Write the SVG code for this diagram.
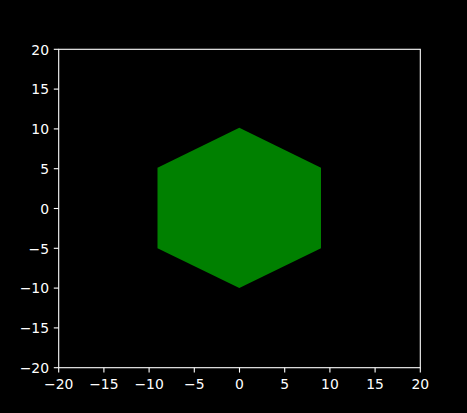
<svg xmlns="http://www.w3.org/2000/svg" width="467" height="413" viewBox="0 0 467 413">
<style>
.t{font-family:"DejaVu Sans",sans-serif;font-size:13.9px;fill:#fff}
.x{text-anchor:middle}
.y{text-anchor:end}
.tk{stroke:#fff;stroke-width:1.1}
</style>
<rect width="467" height="413" fill="#000"/>
<g id="hexagon">
<polygon points="239.3,127.7 321,167.7 321,248.3 239.3,288.1 157.5,248.3 157.5,167.7" fill="#008000"/>
</g>
<g id="axes">
<rect x="58.7" y="49.3" width="361.6" height="318.4" fill="none" stroke="#fff" stroke-width="1.1"/>
<g class="tk">
<line x1="58.7" y1="367.7" x2="58.7" y2="372.6"/>
<line x1="103.9" y1="367.7" x2="103.9" y2="372.6"/>
<line x1="149.1" y1="367.7" x2="149.1" y2="372.6"/>
<line x1="194.3" y1="367.7" x2="194.3" y2="372.6"/>
<line x1="239.5" y1="367.7" x2="239.5" y2="372.6"/>
<line x1="284.7" y1="367.7" x2="284.7" y2="372.6"/>
<line x1="329.9" y1="367.7" x2="329.9" y2="372.6"/>
<line x1="375.1" y1="367.7" x2="375.1" y2="372.6"/>
<line x1="420.3" y1="367.7" x2="420.3" y2="372.6"/>
<line x1="53.8" y1="49.3" x2="58.7" y2="49.3"/>
<line x1="53.8" y1="89.1" x2="58.7" y2="89.1"/>
<line x1="53.8" y1="128.9" x2="58.7" y2="128.9"/>
<line x1="53.8" y1="168.7" x2="58.7" y2="168.7"/>
<line x1="53.8" y1="208.5" x2="58.7" y2="208.5"/>
<line x1="53.8" y1="248.3" x2="58.7" y2="248.3"/>
<line x1="53.8" y1="288.1" x2="58.7" y2="288.1"/>
<line x1="53.8" y1="327.9" x2="58.7" y2="327.9"/>
<line x1="53.8" y1="367.7" x2="58.7" y2="367.7"/>
</g>
<g class="t x">
<text x="58.7" y="388.5">−20</text>
<text x="103.9" y="388.5">−15</text>
<text x="149.1" y="388.5">−10</text>
<text x="194.3" y="388.5">−5</text>
<text x="239.5" y="388.5">0</text>
<text x="284.7" y="388.5">5</text>
<text x="329.9" y="388.5">10</text>
<text x="375.1" y="388.5">15</text>
<text x="420.3" y="388.5">20</text>
</g>
<g class="t y">
<text x="49" y="54.6">20</text>
<text x="49" y="94.4">15</text>
<text x="49" y="134.2">10</text>
<text x="49" y="174">5</text>
<text x="49" y="213.8">0</text>
<text x="49" y="253.6">−5</text>
<text x="49" y="293.4">−10</text>
<text x="49" y="333.2">−15</text>
<text x="49" y="373">−20</text>
</g>
</g>
</svg>
